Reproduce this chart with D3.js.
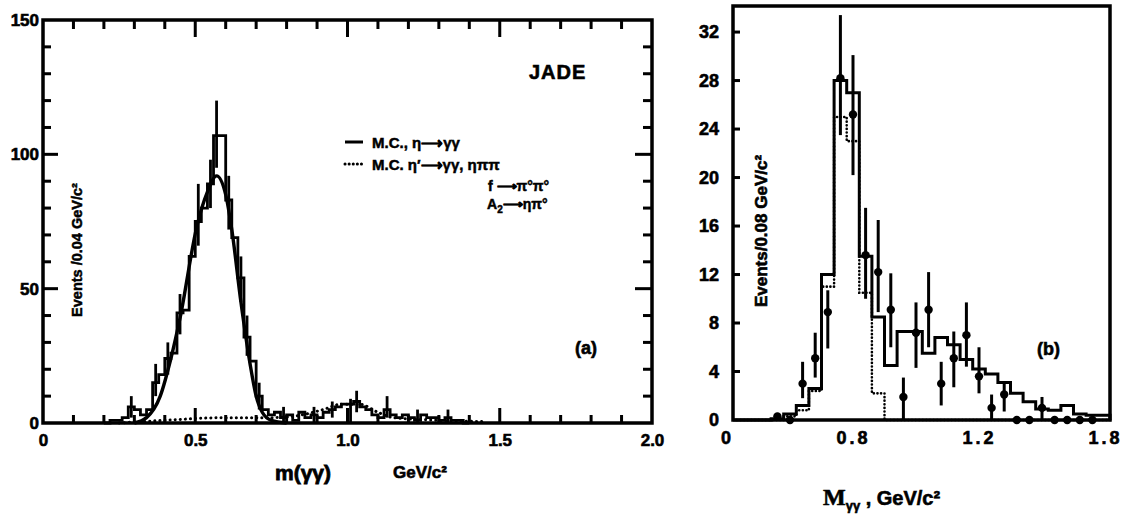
<!DOCTYPE html>
<html lang="en">
<head>
<meta charset="UTF-8">
<script src="https://d3js.org/d3.v7.min.js"></script>
<style>
    body { margin: 0; background: #fff; }
    svg text { font-family: "Liberation Sans", Arial, sans-serif; font-weight: bold; fill: #000; }
</style>
</head>
<body>
<div id="chart"></div>
<script>
    // ---- panel (a): m(γγ), 0.02 GeV steps starting at 0.20 ----
    const aBinStart = 0.20, aBinWidth = 0.02;
    const aCounts = [0, 1, 1, 2, 6, 5, 3, 5, 15, 18, 24, 26, 41, 42, 62, 75, 80, 89, 107, 107,
        83, 69, 54, 32, 23, 10, 5, 3, 4, 2, 3, 1, 4, 2, 3, 2, 4, 5, 6, 7,
        7, 8, 6, 5, 3, 2, 5, 3, 2, 3, 2, 1, 3, 2, 2, 1, 2, 1, 1, 0];
    // M.C. eta -> gamma gamma (solid curve)
    const aCurveX = [0.30, 0.34, 0.385, 0.42, 0.45, 0.505, 0.54, 0.57, 0.60, 0.62, 0.65, 0.68, 0.70, 0.72, 0.75, 0.80];
    const aCurveY = [0, 2, 10, 24, 39, 73, 86, 92, 85, 72, 45, 22, 10, 4, 1, 0];
    // M.C. eta' etc. (dotted curve)
    const aDotX = [0.25, 0.40, 0.60, 0.75, 0.85, 0.92, 0.98, 1.04, 1.10, 1.15, 1.30, 1.45];
    const aDotY = [0, 1, 2, 2, 3, 5, 7, 7, 4, 2, 1, 0.5];
    // error bars
    const aErrX = [0.29, 0.37, 0.41, 0.45, 0.51, 0.55, 0.57, 0.61, 0.65, 0.67, 0.71, 0.79, 0.89, 0.95, 1.01, 1.03, 1.13, 1.23, 1.33];
    const aErrLo = [2, 10, 18, 33, 66, 80, 95, 72, 45, 25, 5, 0, 0, 2, 0, 4, 2, 0, 0];
    const aErrHi = [10, 22, 30, 48, 89, 98, 120, 92, 62, 40, 15, 6, 6, 8, 9, 12, 10, 5, 5];
    const aXTicks = [0, 0.5, 1.0, 1.5, 2.0];
    const aXTickLabels = ["0", "0.5", "1.0", "1.5", "2.0"];
    const aYTicks = [0, 50, 100, 150];

    // ---- panel (b): M(γγ), 0.04 GeV steps starting at 0.42 ----
    const bBinStart = 0.42, bBinWidth = 0.04;
    const bSolid = [0, 0, 0, 0.1, 0.5, 1.2, 2.6, 12, 28, 27, 13.5, 8.5, 4.5, 7.3, 7.3,
        5.5, 6.8, 6.2, 5.0, 4.2, 3.8, 3.1, 2.2, 1.5, 0.9, 0.8, 1.2, 0.5, 0.4, 0.4];
    const bDotted = [0, 0, 0, 0, 0.3, 0.8, 2.4, 11, 25, 23, 10.5, 2.2, 0, 0, 0,
        0, 0, 0, 0, 0, 0, 0, 0, 0, 0, 0, 0, 0, 0, 0];
    const bPtX = [0.56, 0.60, 0.64, 0.68, 0.72, 0.76, 0.80, 0.84, 0.88, 0.92, 0.96, 1.00, 1.04,
        1.08, 1.12, 1.16, 1.20, 1.24, 1.28, 1.32, 1.36, 1.40, 1.44, 1.48, 1.52, 1.56];
    const bPtY = [0.3, 0, 3.0, 5.1, 8.9, 28.2, 25.2, 13.6, 12.2, 9.1, 1.9, 7.2, 9.1,
        3.0, 5.1, 7.0, 3.6, 1.0, 2.1, 0, 0, 1.0, 0, 0, 0, 0];
    const bErrLo = [0.3, 0, 1.8, 3.5, 5.9, 23.5, 20.2, 10.0, 8.9, 6.0, 0, 4.3, 6.0,
        1.2, 2.7, 4.4, 2.2, 0, 0.7, 0, 0, 0, 0, 0, 0, 0];
    const bErrHi = [0.3, 0, 4.8, 7.2, 10.7, 33.4, 30.1, 17.5, 16.5, 12.1, 3.5, 9.7, 12.2,
        4.8, 7.3, 9.7, 6.0, 2.1, 3.1, 0, 0, 1.9, 0, 0, 0, 0];
    const bXTicks = [0.4, 0.8, 1.2, 1.6];
    const bXTickLabels = ["0", "0.8", "1.2", "1.8"];
    const bYTicks = [0, 4, 8, 12, 16, 20, 24, 28, 32];

    const svg = d3.select("#chart").append("svg")
        .attr("width", 1131).attr("height", 515);

    // step outline for a histogram
    function histPoints(start, w, counts) {
        const pts = [[start, 0]];
        counts.forEach((v, i) => pts.push([start + i * w, v]));
        pts.push([start + counts.length * w, 0]);
        return pts;
    }

    // axis used for its labels only; tick marks drawn separately at the end
    function labelAxis(g, size) {
        g.select(".domain").remove();
        g.selectAll("line").remove();
        g.selectAll("text").style("font-size", size + "px")
            .style("font-family", "'Liberation Sans', Arial, sans-serif").style("font-weight", "bold")
            .attr("stroke", "#000").attr("stroke-width", 0.6);
    }

    // tick marks (inward) as small filled bars
    const tickBars = [];
    function addTicks(values, scale, fixed, len, orient) {
        values.forEach(d => {
            const p = scale(d);
            const a = Math.min(fixed, fixed + len), b = Math.abs(len);
            tickBars.push(orient === "h"
                ? { x: p - 1.5, y: a, w: 3, h: b }
                : { x: a, y: p - 1.5, w: b, h: 3 });
        });
    }

    // ================= panel (a) =================
    const xA = d3.scaleLinear().domain([0, 2]).range([43, 652]);
    const yA = d3.scaleLinear().domain([0, 150]).range([423, 20]);
    const gA = svg.append("g");

    const minorA = d3.range(1, 20).map(k => k / 10).filter(v => Math.round(v * 10) % 5 !== 0);
    const minorAY = d3.range(10, 150, 10).filter(v => v % 50 !== 0);

    gA.append("g").attr("transform", "translate(0,423)")
        .call(d3.axisBottom(xA).tickValues(aXTicks).tickSize(0).tickPadding(11)
            .tickFormat((d, i) => aXTickLabels[i]))
        .call(g => labelAxis(g, 17));
    gA.append("g").attr("transform", "translate(43,0)")
        .call(d3.axisLeft(yA).tickValues(aYTicks).tickSize(0).tickPadding(4))
        .call(g => labelAxis(g, 17));

    gA.append("rect").attr("x", xA(0)).attr("y", yA(150))
        .attr("width", xA(2) - xA(0)).attr("height", yA(0) - yA(150))
        .attr("fill", "none").attr("stroke", "#000").attr("stroke-width", 3.5);

    addTicks([0.5, 1.0, 1.5], xA, 423, -15, "h");
    addTicks(minorA, xA, 423, -8, "h");
    addTicks([0.5, 1.0, 1.5], xA, 20, 17, "h");
    addTicks(minorA, xA, 20, 9, "h");
    addTicks([50, 100], yA, 43, 15, "v");
    addTicks(minorAY, yA, 43, 8, "v");
    addTicks([50, 100], yA, 652, -17, "v");
    addTicks(minorAY, yA, 652, -9, "v");

    gA.append("path")
        .attr("d", d3.line().x(d => xA(d[0])).y(d => yA(d[1])).curve(d3.curveStepAfter)(histPoints(aBinStart, aBinWidth, aCounts)))
        .attr("fill", "none").attr("stroke", "#000").attr("stroke-width", 2.8);

    gA.append("path")
        .attr("d", d3.line().x(d => xA(d[0])).y(d => yA(d[1])).curve(d3.curveMonotoneX)(aCurveX.map((x, i) => [x, aCurveY[i]])))
        .attr("fill", "none").attr("stroke", "#000").attr("stroke-width", 3.4);

    gA.append("path")
        .attr("d", d3.line().x(d => xA(d[0])).y(d => yA(d[1])).curve(d3.curveMonotoneX)(aDotX.map((x, i) => [x, aDotY[i]])))
        .attr("fill", "none").attr("stroke", "#000").attr("stroke-width", 3)
        .attr("stroke-dasharray", "0.1,5").attr("stroke-linecap", "round");

    gA.selectAll("line.err").data(aErrX).enter().append("line")
        .attr("class", "err")
        .attr("x1", d => xA(d)).attr("x2", d => xA(d))
        .attr("y1", (d, i) => yA(aErrLo[i])).attr("y2", (d, i) => yA(aErrHi[i]))
        .attr("stroke", "#000").attr("stroke-width", 2.8);

    // labels (a)
    gA.append("text").attr("transform", "translate(82,250) rotate(-90)")
        .attr("text-anchor", "middle").style("font-size", "14.5px")
        .attr("stroke", "#000").attr("stroke-width", 0.5)
        .text("Events /0.04 GeV/c²");
    gA.append("text").attr("x", 275).attr("y", 480).style("font-size", "21px")
        .attr("stroke", "#000").attr("stroke-width", 0.8).text("m(γγ)");
    gA.append("text").attr("x", 393).attr("y", 478).style("font-size", "17px")
        .attr("stroke", "#000").attr("stroke-width", 0.6).text("GeV/c²");
    gA.append("text").attr("x", 529).attr("y", 79).style("font-size", "20px")
        .style("letter-spacing", "1px").attr("stroke", "#000").attr("stroke-width", 0.6).text("JADE");
    gA.append("text").attr("x", 575).attr("y", 354).style("font-size", "18px")
        .attr("stroke", "#000").attr("stroke-width", 0.6).text("(a)");

    // legend
    gA.append("line").attr("x1", 345).attr("x2", 363).attr("y1", 142).attr("y2", 142)
        .attr("stroke", "#000").attr("stroke-width", 3);
    gA.append("line").attr("x1", 345).attr("x2", 363).attr("y1", 164).attr("y2", 164)
        .attr("stroke", "#000").attr("stroke-width", 3)
        .attr("stroke-dasharray", "0.1,4").attr("stroke-linecap", "round");
    const leg = gA.append("g").attr("stroke", "#000").attr("stroke-width", 0.5);
    leg.append("text").attr("x", 372).attr("y", 148).style("font-size", "15px").text("M.C.,  η⟶γγ");
    leg.append("text").attr("x", 372).attr("y", 170).style("font-size", "15px").text("M.C.  η′⟶γγ, ηππ");
    leg.append("text").attr("x", 488).attr("y", 191).style("font-size", "14px").text("f ⟶π°π°");
    const a2 = leg.append("text").attr("x", 487).attr("y", 209).style("font-size", "14px");
    a2.append("tspan").text("A");
    a2.append("tspan").attr("dy", 4).style("font-size", "10px").text("2");
    a2.append("tspan").attr("dy", -4).text("⟶ηπ°");

    // ================= panel (b) =================
    const xB = d3.scaleLinear().domain([0.4, 1.6]).range([727, 1105]);
    const yB = d3.scaleLinear().domain([0, 34.15]).range([420, 6]);
    const gB = svg.append("g");
    const frameL = 733, frameR = 1110;

    gB.append("g").attr("transform", `translate(${frameL},0)`)
        .call(d3.axisLeft(yB).tickValues(bYTicks).tickSize(0).tickPadding(14))
        .call(g => labelAxis(g, 18));
    gB.append("g").attr("transform", "translate(0,420)")
        .call(d3.axisBottom(xB).tickValues(bXTicks).tickSize(0).tickPadding(11)
            .tickFormat((d, i) => bXTickLabels[i]))
        .call(g => labelAxis(g, 18))
        .call(g => g.selectAll("text").style("letter-spacing", "3px"));

    gB.append("rect").attr("x", frameL).attr("y", yB(34.15))
        .attr("width", frameR - frameL).attr("height", yB(0) - yB(34.15))
        .attr("fill", "none").attr("stroke", "#000").attr("stroke-width", 3.5);
    addTicks(bYTicks.slice(1), yB, frameL, 7, "v");

    const lineB = d3.line().x(d => xB(Math.min(d[0], 1.616))).y(d => yB(d[1])).curve(d3.curveStepAfter);
    gB.append("path")
        .attr("d", lineB(histPoints(bBinStart, bBinWidth, bDotted)))
        .attr("fill", "none").attr("stroke", "#000").attr("stroke-width", 2.6)
        .attr("stroke-dasharray", "0.1,3.5").attr("stroke-linecap", "round");
    gB.append("path")
        .attr("d", lineB(histPoints(bBinStart, bBinWidth, bSolid)))
        .attr("fill", "none").attr("stroke", "#000").attr("stroke-width", 3);

    gB.selectAll("line.err").data(bPtX).enter().append("line")
        .attr("class", "err")
        .attr("x1", d => xB(d)).attr("x2", d => xB(d))
        .attr("y1", (d, i) => yB(bErrLo[i])).attr("y2", (d, i) => yB(bErrHi[i]))
        .attr("stroke", "#000").attr("stroke-width", 3);
    gB.selectAll("circle.pt").data(bPtX).enter().append("circle")
        .attr("class", "pt")
        .attr("cx", d => xB(d)).attr("cy", (d, i) => yB(bPtY[i]))
        .attr("r", 4.2).attr("fill", "#000");

    gB.append("text").attr("transform", "translate(767,231) rotate(-90)")
        .attr("text-anchor", "middle").style("font-size", "17px")
        .attr("stroke", "#000").attr("stroke-width", 0.6)
        .text("Events/0.08 GeV/c²");
    gB.append("text").attr("x", 1037).attr("y", 355).style("font-size", "18px")
        .attr("stroke", "#000").attr("stroke-width", 0.6).text("(b)");

    const xl = gB.append("text").attr("x", 823).attr("y", 505).style("font-size", "20px")
        .attr("stroke", "#000").attr("stroke-width", 0.6);
    xl.append("tspan").style("font-family", "'Liberation Serif', serif").style("font-size", "24px").text("M");
    xl.append("tspan").attr("dy", 5).style("font-size", "13px").text("γγ");
    xl.append("tspan").attr("dy", -5).text(" , GeV/c²");

    // all frame tick marks, drawn last as filled bars
    svg.append("g").selectAll("rect").data(tickBars).enter().append("rect")
        .attr("x", d => d.x).attr("y", d => d.y)
        .attr("width", d => d.w).attr("height", d => d.h)
        .attr("fill", "#000");
</script>
</body>
</html>
